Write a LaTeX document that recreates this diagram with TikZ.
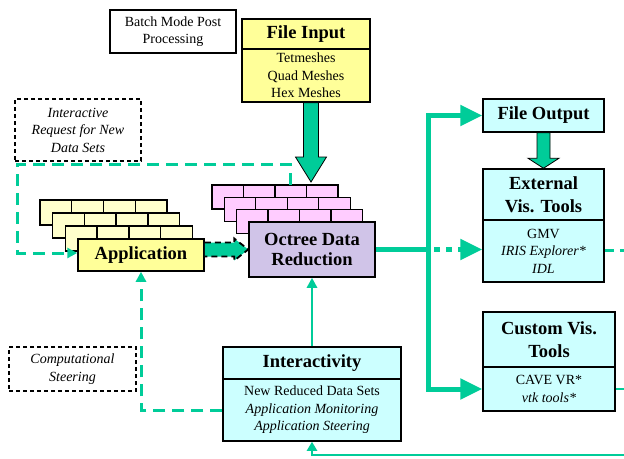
\documentclass[tikz,border=0pt]{standalone}
\usepackage{fontspec}
\setmainfont{Liberation Serif}
\usetikzlibrary{arrows.meta,calc}
\definecolor{grn}{RGB}{0,204,153}
\definecolor{yel}{RGB}{255,255,153}
\definecolor{pyel}{RGB}{255,255,204}
\definecolor{pnk}{RGB}{255,204,255}
\definecolor{lav}{RGB}{208,196,232}
\definecolor{cyn}{RGB}{204,255,255}
\begin{document}
\begin{tikzpicture}[x=1pt,y=-1pt,
  box/.style={draw=black,line width=1.5pt,inner sep=0pt,align=center},
  ttl/.style={font=\fontsize{18.5}{23.5}\selectfont\bfseries},
  txt/.style={font=\fontsize{14}{17.5}\selectfont},
  dbox/.style={draw=black,dash pattern=on 4pt off 3pt,line width=1.1pt,inner sep=0pt,align=center,font=\fontsize{14}{17.5}\selectfont\itshape},
  thickg/.style={draw=grn,line width=5pt},
  dgreen/.style={draw=grn,line width=3pt,dash pattern=on 12pt off 7pt},
  sgreen/.style={draw=grn,line width=2.5pt},
  bigtip/.style={-{Triangle[length=22pt,width=20pt]}},
  smalltip/.style={-{Triangle[length=10pt,width=10pt]}},
  blockarrow/.style={fill=grn,draw=black,line width=0.8pt},
  brick/.style={draw=black,line width=1.4pt}
]
\useasboundingbox (0,0) rectangle (624,458);

% brick stacks
\foreach \j in {3,2,1}{
  \pgfmathsetmacro{\xa}{78-12.67*\j}
  \pgfmathsetmacro{\ya}{239-13*\j}
  \draw[brick,fill=pyel] (\xa,\ya) rectangle ++(127,25);
  \foreach \i in {1,2,3}{\draw[brick] (\xa+31.75*\i,\ya) -- ++(0,13);}
}
\foreach \j in {3,2,1}{
  \pgfmathsetmacro{\xa}{249-12.4*\j}
  \pgfmathsetmacro{\ya}{222-12.4*\j}
  \draw[brick,fill=pnk] (\xa,\ya) rectangle ++(126,24);
  \foreach \i in {1,2,3}{\draw[brick] (\xa+31.5*\i,\ya) -- ++(0,12.4);}
}
\coordinate (pinktop) at (290,185);
\coordinate (tip) at (311,182);

% nodes
\node[box,txt,minimum width=126pt,minimum height=43pt] (bat) at (173,31.5) {Batch Mode Post\\Processing};
\node[box,ttl,fill=yel,minimum width=128pt,minimum height=30pt] (fit) at (306,34) {File Input};
\node[box,txt,fill=yel,minimum width=128pt,minimum height=53pt] (fib) at (306,75.5) {Tetmeshes\\Quad Meshes\\Hex Meshes};
\node[dbox,minimum width=126pt,minimum height=62pt] (irq) at (78,130) {Interactive\\Request for New\\Data Sets};
\node[box,ttl,fill=yel,minimum width=126pt,minimum height=32pt] (app) at (141,255) {Application};
\node[box,font=\fontsize{18.5}{20}\selectfont\bfseries,fill=lav,minimum width=126pt,minimum height=55pt] (oct) at (312,249.5) {Octree Data\\Reduction};
\node[box,ttl,fill=cyn,minimum width=121pt,minimum height=33pt] (fo) at (543.5,115.5) {File Output};
\node[box,ttl,fill=cyn,minimum width=121pt,minimum height=51pt] (evt) at (543.5,194.5) {External\\Vis. Tools};
\node[box,txt,fill=cyn,minimum width=121pt,minimum height=62pt] (evb) at (543.5,251) {GMV\\\textit{IRIS Explorer*}\\\textit{IDL}};
\node[box,ttl,fill=cyn,minimum width=132pt,minimum height=55pt] (cvt) at (549,339.5) {Custom Vis.\\Tools};
\node[box,txt,fill=cyn,minimum width=132pt,minimum height=44pt] (cvb) at (549,389) {CAVE VR*\\\textit{vtk tools*}};
\node[box,ttl,fill=cyn,minimum width=178pt,minimum height=32pt] (it) at (312,363) {Interactivity};
\node[box,txt,fill=cyn,minimum width=178pt,minimum height=62pt] (ib) at (312,410) {New Reduced Data Sets\\\textit{Application Monitoring}\\\textit{Application Steering}};
\node[dbox,minimum width=127pt,minimum height=44pt] (cs) at (72.5,369) {Computational\\Steering};

% block arrow File Input -> Octree stack
\coordinate (a1) at (fib.south -| tip);
\draw[blockarrow] ($(a1)+(-7.5,0)$) -- ($(tip)+(-7.5,-25)$) -- ($(tip)+(-15.5,-25)$) -- (tip)
  -- ($(tip)+(15.5,-25)$) -- ($(tip)+(7.5,-25)$) -- ($(a1)+(7.5,0)$) -- cycle;

% block arrow File Output -> External
\coordinate (b1) at (fo.south);
\coordinate (b2) at (evt.north);
\draw[blockarrow] ($(b1)+(-6.5,0)$) -- ($(b2)+(-6.5,-10)$) -- ($(b2)+(-15.5,-10)$) -- (b2)
  -- ($(b2)+(15.5,-10)$) -- ($(b2)+(6.5,-10)$) -- ($(b1)+(6.5,0)$) -- cycle;

% Application -> Octree (dashed outline block arrow)
\coordinate (q) at (app.east |- oct.west);
\draw[fill=grn,draw=black,line width=1.8pt,dash pattern=on 6pt off 4pt]
  ($(q)+(0,-7)$) -- ($(oct.west)+(-14,-7)$) -- ($(oct.west)+(-14,-11)$) -- (oct.west)
  -- ($(oct.west)+(-14,11)$) -- ($(oct.west)+(-14,7)$) -- ($(q)+(0,7)$);

% Octree -> outputs
\coordinate (jn) at (428,249.5);
\draw[thickg] (oct.east) -- (jn);
\draw[thickg,{Triangle[length=22pt,width=20pt]}-{Triangle[length=22pt,width=20pt]}]
  (fo.west) -- (jn |- fo.west) -- (jn |- cvb.west) -- (cvb.west);
\draw[thickg,bigtip,dash pattern=on 6pt off 6pt,dash phase=6pt] (jn) -- (jn -| evb.west);

% right edge stubs
\coordinate (edgeA) at (624,250);
\coordinate (edgeB) at (624,389);
\coordinate (edgeC) at (624,455);
\draw[draw=grn,line width=3pt,dash pattern=on 9pt off 6pt] (evb.east |- edgeA) -- (edgeA);
\draw[sgreen] (cvb.east) -- (edgeB);
\draw[sgreen,-{Triangle[length=9pt,width=10pt]}] (edgeC) -| (ib.south);

% Interactivity -> Octree
\draw[sgreen,smalltip] (it.north) -- (oct.south);

% Interactive request loop
\coordinate (lc) at (17,164);
\draw[dgreen,smalltip] (pinktop) |- (lc) |- ([yshift=2pt]app.west);

% Computational steering
\draw[dgreen,smalltip] (ib.west) -| (app.south);
\end{tikzpicture}
\end{document}
